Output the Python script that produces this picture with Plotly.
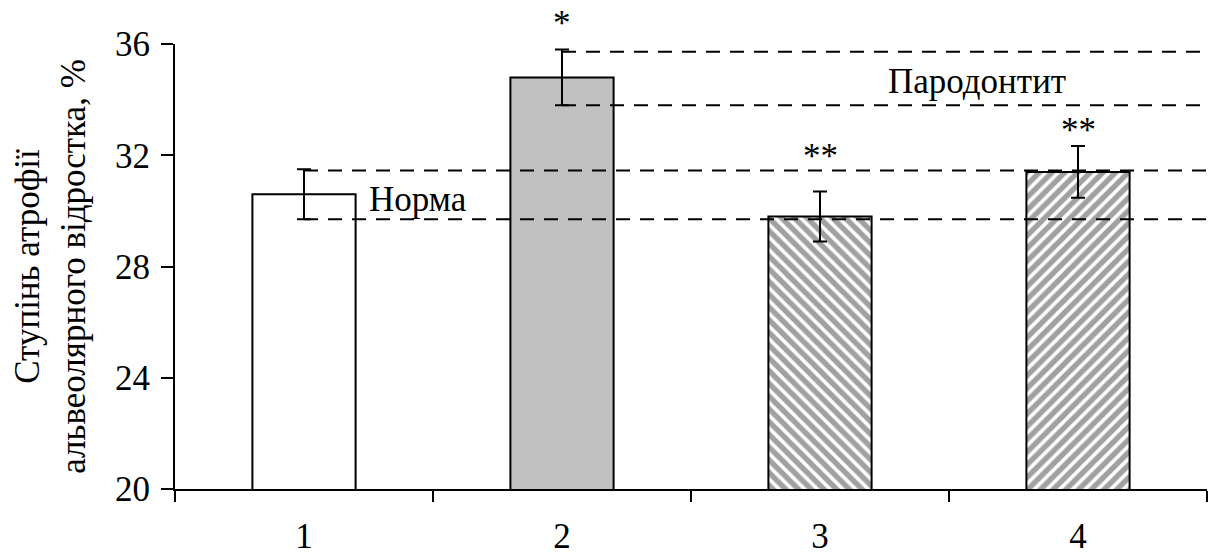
import plotly.graph_objects as go

# Groups, mean values and errors
groups = ["1", "2", "3", "4"]
values = [30.6, 34.8, 29.8, 31.4]
errors = [0.9, 1.0, 0.9, 0.93]
fill_colors = ["white", "#c0c0c0", "white", "white"]
hatch_shapes = ["", "", "\\", "/"]

# Reference bands (norm and periodontitis)
norm_band = [29.7, 31.45]
perio_band = [33.8, 35.72]

# Significance marks
marks = ["*", "**", "**"]
mark_x = [1, 2, 3]
mark_y = [36.75, 31.95, 32.9]

Y_MIN, Y_MAX = 20, 36
FONT = "Liberation Serif, Times New Roman, serif"
FS = 35

xpos = list(range(len(groups)))

fig = go.Figure()
fig.add_trace(go.Bar(
    x=xpos, y=values, width=0.4, base=0,
    marker=dict(
        color=fill_colors,
        line=dict(color="black", width=2),
        pattern=dict(shape=hatch_shapes, fgcolor="black", bgcolor="white",
                     size=9, solidity=0.6, fillmode="overlay"),
    ),
    error_y=dict(type="data", array=errors, color="black", thickness=2, width=7),
    showlegend=False,
))

# Dashed band lines
for yv in norm_band:
    fig.add_shape(type="line", xref="x", yref="y", x0=0, x1=3.5, y0=yv, y1=yv,
                  line=dict(color="black", width=2, dash="14px,10px"), layer="above")
for yv in perio_band:
    fig.add_shape(type="line", xref="x", yref="y", x0=1, x1=3.5, y0=yv, y1=yv,
                  line=dict(color="black", width=2, dash="14px,10px"), layer="above")

fig.add_annotation(x=0.245, y=30.4, text="Норма", showarrow=False, xanchor="left",
                   yanchor="middle", font=dict(family=FONT, size=FS, color="black"))
fig.add_annotation(x=2.255, y=34.65, text="Пародонтит", showarrow=False, xanchor="left",
                   yanchor="middle", font=dict(family=FONT, size=FS, color="black"))

# Stars placed in paper coordinates so ones above the axis range still show
for t, xv, yv in zip(marks, mark_x, mark_y):
    fig.add_annotation(x=xv, xref="x", y=(yv - Y_MIN) / (Y_MAX - Y_MIN), yref="paper",
                       text=t, showarrow=False, xanchor="center", yanchor="middle",
                       font=dict(family=FONT, size=FS, color="black"))

fig.update_layout(
    width=1229, height=558,
    margin=dict(l=175, r=22, t=44, b=69),
    paper_bgcolor="white", plot_bgcolor="white",
    font=dict(family=FONT, size=FS, color="black"),
    xaxis=dict(
        range=[-0.5, 3.5], tickvals=xpos, ticktext=groups, ticks="",
        showline=True, linecolor="black", linewidth=2, showgrid=False, zeroline=False,
        ticklabelstandoff=15, automargin=False,
        minor=dict(tickvals=[-0.5, 0.5, 1.5, 2.5, 3.5], ticks="outside", ticklen=11,
                   tickwidth=2, tickcolor="black", showgrid=False),
    ),
    yaxis=dict(
        range=[Y_MIN, Y_MAX], tickvals=[20, 24, 28, 32, 36], ticks="outside", ticklen=12,
        tickwidth=2, tickcolor="black", showline=True, linecolor="black", linewidth=2,
        showgrid=False, zeroline=False, ticklabelstandoff=4, automargin=False,
        title=dict(text="Ступінь атрофії<br>альвеолярного відростка, %", standoff=19,
                   font=dict(family=FONT, size=FS)),
    ),
)

fig.write_html("out.html")
